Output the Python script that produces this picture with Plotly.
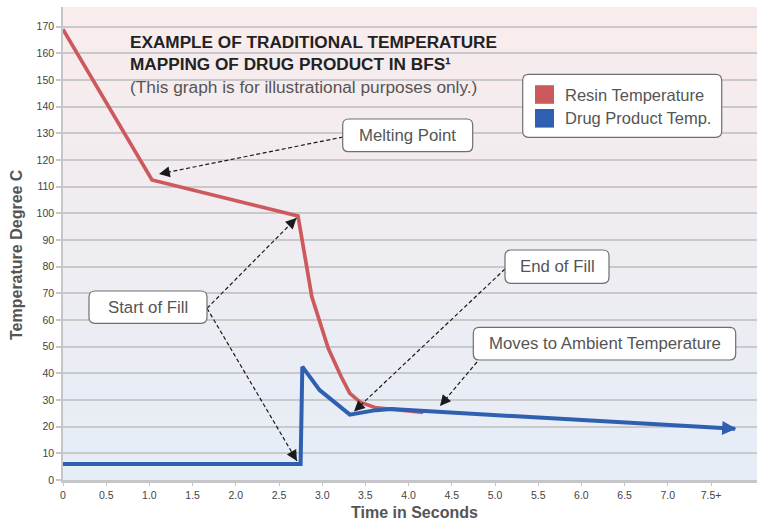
import plotly.graph_objects as go

# ---------------- data ----------------
resin_time = [0, 1.03, 2.72, 2.88, 3.07, 3.22, 3.32, 3.44, 3.61, 3.90, 4.17]
resin_temp = [169, 112.5, 99, 68.7, 49.4, 38.7, 32.5, 29.2, 27.2, 26.2, 25.3]
drug_time = [0, 2.75, 2.77, 2.97, 3.32, 3.62, 3.80, 7.78]
drug_temp = [6, 6, 42.5, 33.7, 24.5, 26.2, 26.6, 19.2]

x_tick_vals = [0, 0.5, 1.0, 1.5, 2.0, 2.5, 3.0, 3.5, 4.0, 4.5, 5.0, 5.5, 6.0, 6.5, 7.0, 7.5]
x_tick_text = ["0", "0.5", "1.0", "1.5", "2.0", "2.5", "3.0", "3.5", "4.0", "4.5",
               "5.0", "5.5", "6.0", "6.5", "7.0", "7.5+"]
y_tick_vals = list(range(0, 171, 10))

series_names = ["Resin Temperature", "Drug Product Temp."]
title_lines = ["EXAMPLE OF TRADITIONAL TEMPERATURE", "MAPPING OF DRUG PRODUCT IN BFS¹"]
subtitle = "(This graph is for illustrational purposes only.)"
callouts = ["Melting Point", "Start of Fill", "End of Fill", "Moves to Ambient Temperature"]

# ---------------- layout geometry ----------------
W, H = 757, 521
ML, MR, MT, MB = 63, 0, 7, 41
PW, PH = W - ML - MR, H - MT - MB
XMAX = PW / 86.4
YMAX = PH / 2.6667

RED = "#cc5a5d"
BLUE = "#2e5fb0"
FONT = "Liberation Sans, Arial, Helvetica, sans-serif"


def dx(px):
    return (px - ML) / PW * XMAX


def dy(py):
    return (MT + PH - py) / PH * YMAX


def to_px(x, y):
    return ML + x / XMAX * PW, MT + PH - y / YMAX * PH


def rrect(x0, y0, x1, y1, r=6):
    pts = [
        ("M", x0 + r, y0), ("L", x1 - r, y0), ("Q", x1, y0, x1, y0 + r),
        ("L", x1, y1 - r), ("Q", x1, y1, x1 - r, y1), ("L", x0 + r, y1),
        ("Q", x0, y1, x0, y1 - r), ("L", x0, y0 + r), ("Q", x0, y0, x0 + r, y0),
    ]
    s = ""
    for p in pts:
        if p[0] == "Q":
            s += "Q%.5f,%.5f %.5f,%.5f " % (dx(p[1]), dy(p[2]), dx(p[3]), dy(p[4]))
        else:
            s += "%s%.5f,%.5f " % (p[0], dx(p[1]), dy(p[2]))
    return s + "Z"


fig = go.Figure()

fig.add_trace(go.Scatter(
    x=resin_time, y=resin_temp, mode="lines", name=series_names[0],
    line=dict(color=RED, width=3.7), showlegend=False, hoverinfo="x+y"))

fig.add_trace(go.Scatter(
    x=drug_time, y=drug_temp, mode="lines", name=series_names[1],
    line=dict(color=BLUE, width=4), showlegend=False, hoverinfo="x+y"))

shapes = []
# gradient background
top = (249, 236, 236)
bot = (229, 237, 247)
NB = 60
for i in range(NB):
    t = (i + 0.5) / NB
    c = tuple(round(top[k] + (bot[k] - top[k]) * t) for k in range(3))
    shapes.append(dict(type="rect", xref="paper", yref="paper", x0=0, x1=1,
                       y0=1 - (i + 1) / NB - 0.002, y1=1 - i / NB,
                       fillcolor="rgb(%d,%d,%d)" % c, line=dict(width=0), layer="below"))

annotations = []

# blue arrow head at the end of the drug product line (triangle, tip at last point)
ex, ey = to_px(drug_time[-1], drug_temp[-1])
px_, py_ = to_px(drug_time[-2], drug_temp[-2])
Lb = ((px_ - ex) ** 2 + (py_ - ey) ** 2) ** 0.5
ux, uy = (px_ - ex) / Lb, (py_ - ey) / Lb
HL, HW = 13, 7
bx_, by_ = ex + ux * HL, ey + uy * HL
p1 = (bx_ - uy * HW, by_ + ux * HW)
p2 = (bx_ + uy * HW, by_ - ux * HW)
tri = "M%.5f,%.5f L%.5f,%.5f L%.5f,%.5f Z" % (dx(ex + ux * -1), dy(ey + uy * -1),
                                              dx(p1[0]), dy(p1[1]), dx(p2[0]), dy(p2[1]))
shapes.append(dict(type="path", path=tri, fillcolor=BLUE, line=dict(width=0), layer="above"))

# title
for txt, ypx, bold in [(title_lines[0], 42, True), (title_lines[1], 64, True), (subtitle, 87, False)]:
    annotations.append(dict(
        xref="paper", yref="paper", x=(128 - ML) / PW, y=(MT + PH - ypx) / PH,
        xanchor="left", yanchor="middle", showarrow=False,
        text=("<b>%s</b>" % txt) if bold else txt,
        font=dict(family=FONT, size=17.2 if bold else 17.3, color="#222222" if bold else "#555555")))

# legend box
shapes.append(dict(type="path", path=rrect(522.7, 74.3, 721.7, 137.3, 6),
                   fillcolor="white", line=dict(color="#6e6e6e", width=1.2), layer="above"))
for col, cy, name in [(RED, 94.5, series_names[0]), (BLUE, 118.3, series_names[1])]:
    shapes.append(dict(type="rect", x0=dx(535), x1=dx(554), y0=dy(cy - 9.3), y1=dy(cy + 9.3),
                       fillcolor=col, line=dict(width=0), layer="above"))
    annotations.append(dict(x=dx(563), y=dy(cy), xanchor="left", yanchor="middle",
                            showarrow=False, text=name,
                            font=dict(family=FONT, size=16.5, color="#555555")))

# callout boxes: (label, box px, list of (origin px, tip px))
boxes = [
    (callouts[0], (342.7, 119, 472.7, 151.7), [((343, 137), (159, 174))]),
    (callouts[1], (89, 291, 207, 323.3), [((207, 308.3), (296.5, 218)), ((207, 308.3), (297, 461))]),
    (callouts[2], (505, 250, 609, 283.3), [((505, 269), (354, 411.5))]),
    (callouts[3], (473.3, 327.3, 735.7, 360), [((477, 362), (440, 406))]),
]
for label, (bx0, by0, bx1, by1), arrows in boxes:
    for (ox, oy), (tx, ty) in arrows:
        shapes.append(dict(type="line", x0=dx(ox), y0=dy(oy), x1=dx(tx), y1=dy(ty),
                           line=dict(color="#1a1a1a", width=1.2, dash="4px,2.5px"), layer="above"))
        L = ((ox - tx) ** 2 + (oy - ty) ** 2) ** 0.5
        annotations.append(dict(x=dx(tx), y=dy(ty), ax=(ox - tx) / L * 8, ay=(oy - ty) / L * 8,
                                text="", showarrow=True, arrowhead=2, arrowsize=1.8,
                                arrowwidth=1.2, arrowcolor="#1a1a1a", standoff=0))
    shapes.append(dict(type="path", path=rrect(bx0, by0, bx1, by1, 6),
                       fillcolor="white", line=dict(color="#6e6e6e", width=1.2), layer="above"))
    annotations.append(dict(x=dx((bx0 + bx1) / 2), y=dy((by0 + by1) / 2), showarrow=False,
                            text=label, xanchor="center", yanchor="middle",
                            font=dict(family=FONT, size=16.8, color="#555555")))

# axis titles
annotations.append(dict(xref="paper", yref="paper", x=(17 - ML) / PW, y=(MT + PH - 255) / PH,
                        textangle=-90, showarrow=False, xanchor="center", yanchor="middle",
                        text="<b>Temperature Degree C</b>",
                        font=dict(family=FONT, size=16, color="#555555")))
annotations.append(dict(xref="paper", yref="paper", x=(414 - ML) / PW, y=(MT + PH - 512) / PH,
                        showarrow=False, xanchor="center", yanchor="middle",
                        text="<b>Time in Seconds</b>",
                        font=dict(family=FONT, size=16, color="#555555")))

fig.update_layout(
    width=W, height=H,
    margin=dict(l=ML, r=MR, t=MT, b=MB, pad=0),
    paper_bgcolor="white", plot_bgcolor="rgba(0,0,0,0)",
    shapes=shapes, annotations=annotations, showlegend=False,
    font=dict(family=FONT),
    xaxis=dict(range=[0, XMAX], tickvals=x_tick_vals, ticktext=x_tick_text,
               showgrid=False, zeroline=False, showline=True, linecolor="#c6c6c9", linewidth=3,
               ticks="outside", ticklen=3, tickcolor="#c6c6c9", tickwidth=1,
               tickfont=dict(size=10.5, color="#444444"), fixedrange=True),
    yaxis=dict(range=[0, YMAX], tickvals=y_tick_vals, showgrid=True, gridcolor="#c9c9cc",
               gridwidth=1.5, zeroline=False, showline=True, linecolor="#c6c6c9", linewidth=1.5,
               ticks="outside", ticklen=5, tickcolor="#c6c6c9", tickwidth=1.5,
               tickfont=dict(size=10.5, color="#444444"), fixedrange=True),
)

fig.write_html("out.html", config={"displayModeBar": False},
               post_script="document.body.style.margin='0';document.body.style.overflow='hidden';")
